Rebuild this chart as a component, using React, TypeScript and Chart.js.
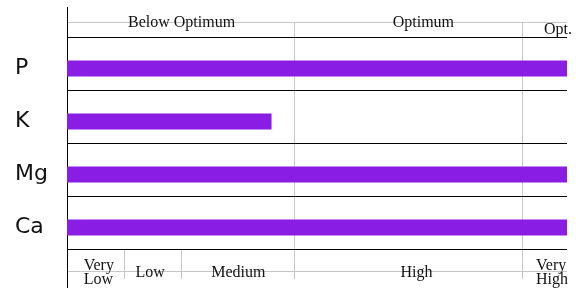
import React, { useEffect, useRef } from "react";
import { Chart, registerables } from "chart.js";

Chart.register(...registerables);

// ---- data ----
const nutrients = ["P", "K", "Mg", "Ca"];
const levels = [110, 45, 110, 110];
const axisMax = 110;
const ratingEdges = [12.5, 25, 50, 100];
const optimumEdges = [50, 100];
const headerLabels: (string | string[])[] = ["Below Optimum", "Optimum", ["", "Opt."]];
const headerAt = [25.2, 78.4, 108.0];
const footerLabels: (string | string[])[] = [["Very", "Low"], "Low", "Medium", "High", ["Very", "High"]];
const footerAt = [7.0, 18.3, 37.7, 76.9, 106.7];

// ---- style ----
const BAR = "#8a1de3";
const GRID = "#c6c6c6";
const INK = "#111111";
const SERIF = '16px "Liberation Serif", "Times New Roman", serif';

function drawLabel(ctx: CanvasRenderingContext2D, label: string | string[], cx: number, cy: number) {
  const lines = Array.isArray(label) ? label : [label];
  const lh = 14;
  const widths = lines.map((l) => ctx.measureText(l).width);
  const maxW = Math.max(...widths);
  const first = cy + 5.3 - ((lines.length - 1) * lh) / 2;
  lines.forEach((l, i) => {
    const x = lines.length > 1 ? cx - maxW / 2 : cx - widths[i] / 2;
    ctx.fillText(l, x, first + i * lh);
  });
}

const bandsPlugin = {
  id: "bands",
  beforeDatasetsDraw(chart: any) {
    const { ctx, chartArea: a, scales } = chart;
    const x = scales.x;
    const n = nutrients.length;
    const step = (a.bottom - a.top) / n;
    const shift = 5;
    const headerY = a.top - 19.5;
    const footerY = a.bottom + 17.5;
    const lineBottom = a.bottom - shift + 0.5;
    const gridBottom = a.bottom + 25;
    const px = (v: number) => Math.round(x.getPixelForValue(v)) + 0.5;
    ctx.save();
    ctx.lineWidth = 1;
    ctx.strokeStyle = GRID;
    ctx.beginPath();
    ctx.moveTo(a.left, headerY);
    ctx.lineTo(a.right, headerY);
    ctx.moveTo(a.left, footerY);
    ctx.lineTo(a.right, footerY);
    optimumEdges.forEach((v) => {
      ctx.moveTo(px(v), headerY);
      ctx.lineTo(px(v), gridBottom);
    });
    ratingEdges
      .filter((v) => !optimumEdges.includes(v))
      .forEach((v) => {
        ctx.moveTo(px(v), lineBottom);
        ctx.lineTo(px(v), gridBottom);
      });
    ctx.stroke();

    ctx.strokeStyle = "#000";
    ctx.beginPath();
    for (let i = 0; i <= n; i++) {
      const yy = Math.round(a.top + i * step - shift) + 0.5;
      ctx.moveTo(a.left, yy);
      ctx.lineTo(a.right, yy);
    }
    ctx.moveTo(a.left + 0.5, 7);
    ctx.lineTo(a.left + 0.5, chart.height);
    ctx.stroke();
    ctx.restore();
  },
  afterDraw(chart: any) {
    const { ctx, chartArea: a, scales } = chart;
    const x = scales.x;
    ctx.save();
    ctx.font = SERIF;
    ctx.fillStyle = INK;
    ctx.textAlign = "left";
    ctx.textBaseline = "alphabetic";
    const headerY = a.top - 20;
    const footerY = a.bottom + 17.5;
    headerLabels.forEach((l, i) => drawLabel(ctx, l, x.getPixelForValue(headerAt[i]), headerY));
    footerLabels.forEach((l, i) => drawLabel(ctx, l, x.getPixelForValue(footerAt[i]), footerY));
    ctx.restore();
  },
};

export default function App() {
  const ref = useRef<HTMLCanvasElement | null>(null);
  useEffect(() => {
    if (!ref.current) return;
    const chart = new Chart(ref.current, {
      type: "bar",
      data: {
        labels: nutrients,
        datasets: [
          {
            data: levels,
            backgroundColor: BAR,
            borderWidth: 0,
            barPercentage: 16 / 53,
            categoryPercentage: 1,
          },
        ],
      },
      options: {
        indexAxis: "y",
        animation: false,
        responsive: false,
        layout: { padding: { left: 15, top: 42, right: 13, bottom: 34 } },
        plugins: { legend: { display: false }, tooltip: { enabled: false } },
        scales: {
          x: { display: false, min: 0, max: axisMax },
          y: {
            grid: { display: false },
            border: { display: false },
            ticks: {
              color: INK,
              font: { family: "DejaVu Sans", size: 22 },
              crossAlign: "far",
              padding: 0,
              labelOffset: 0,
            },
            afterFit: (s: any) => {
              s.width = 52;
            },
          },
        },
      },
      plugins: [bandsPlugin],
    });
    return () => chart.destroy();
  }, []);
  return (
    <div style={{ position: "absolute", left: 0, top: 0, width: 580, height: 288 }}>
      <canvas ref={ref} width={580} height={288} style={{ display: "block" }} />
    </div>
  );
}
